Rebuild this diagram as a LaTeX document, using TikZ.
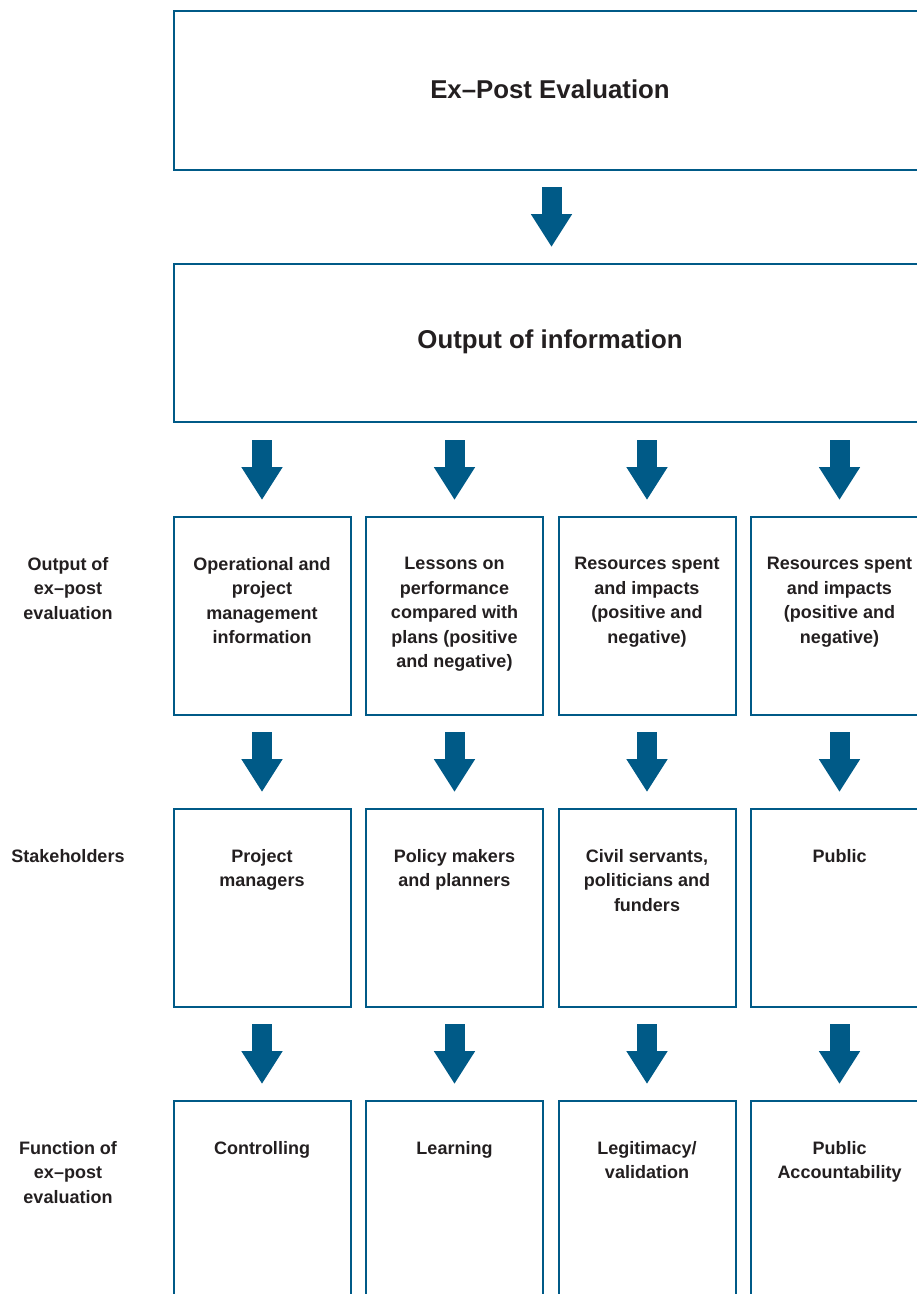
\documentclass[tikz,border=0pt]{standalone}
\usepackage{fontspec}
\setmainfont{Liberation Sans}
\usetikzlibrary{arrows.meta}
\definecolor{eblue}{HTML}{005A87}
\definecolor{etext}{HTML}{231F20}
\tikzset{
  box/.style={draw=eblue, line width=2pt, rectangle, inner sep=0pt, anchor=north west},
  colbox/.style={box, minimum width=177pt, minimum height=198pt},
  txt/.style={text=etext, font=\bfseries\fontsize{18}{24.5}\selectfont, align=center, inner sep=0pt, anchor=north},
  bigtxt/.style={text=etext, font=\bfseries\fontsize{25.8}{30}\selectfont, inner sep=0pt},
  flow/.style={draw=eblue, fill=eblue, line width=20pt, -{Triangle[width=39pt,length=33pt]}}
}
\begin{document}
\begin{tikzpicture}[x=1pt,y=-1pt]
\useasboundingbox (0,0) rectangle (917,1294);
\clip (0,0) rectangle (917,1294);
% top boxes
\node[box, minimum width=756pt, minimum height=159pt] (expost) at (172.5,10) {};
\node[bigtxt] (expostT) at (550,89) {Ex–Post Evaluation};
\node[box, minimum width=756pt, minimum height=158pt] (info) at (172.5,263) {};
\node[bigtxt] (infoT) at (550,342) {Output of information};
\draw[flow] ([yshift=-16pt]expost.south) -- ([yshift=16pt]info.north);
% column boxes
\foreach \i/\x in {1/172.5,2/365,3/557.5,4/750}{
  \node[colbox] (o\i) at (\x,516) {};
  \node[colbox] (s\i) at (\x,808) {};
  \node[colbox, minimum height=250pt] (f\i) at (\x,1100) {};
  \draw[flow] ([yshift=-17pt]info.south -| o\i.north) -- ([yshift=16pt]o\i.north);
  \draw[flow] ([yshift=-16pt]o\i.south) -- ([yshift=16pt]s\i.north);
  \draw[flow] ([yshift=-16pt]s\i.south) -- ([yshift=16pt]f\i.north);
}
% row labels
\node[txt] (lo) at (68,557) {Output of\\ex–post\\evaluation};
\node[txt] (ls) at (68,849) {Stakeholders};
\node[txt] (lf) at (68,1141) {Function of\\ex–post\\evaluation};
% output texts
\node[txt] (o1T) at ([yshift=-41pt]o1.north) {Operational and\\project\\management\\information};
\node[txt] (o2T) at ([yshift=-41pt]o2.north) {Lessons on\\performance\\compared with\\plans (positive\\and negative)};
\node[txt] (o3T) at ([yshift=-41pt]o3.north) {Resources spent\\and impacts\\(positive and\\negative)};
\node[txt] (o4T) at ([yshift=-41pt]o4.north) {Resources spent\\and impacts\\(positive and\\negative)};
% stakeholder texts
\node[txt] (s1T) at ([yshift=-41pt]s1.north) {Project\\managers};
\node[txt] (s2T) at ([yshift=-41pt]s2.north) {Policy makers\\and planners};
\node[txt] (s3T) at ([yshift=-41pt]s3.north) {Civil servants,\\politicians and\\funders};
\node[txt] (s4T) at ([yshift=-41pt]s4.north) {Public};
% function texts
\node[txt] (f1T) at ([yshift=-41pt]f1.north) {Controlling};
\node[txt] (f2T) at ([yshift=-41pt]f2.north) {Learning};
\node[txt] (f3T) at ([yshift=-41pt]f3.north) {Legitimacy/\\validation};
\node[txt] (f4T) at ([yshift=-41pt]f4.north) {Public\\Accountability};
\end{tikzpicture}
\end{document}
